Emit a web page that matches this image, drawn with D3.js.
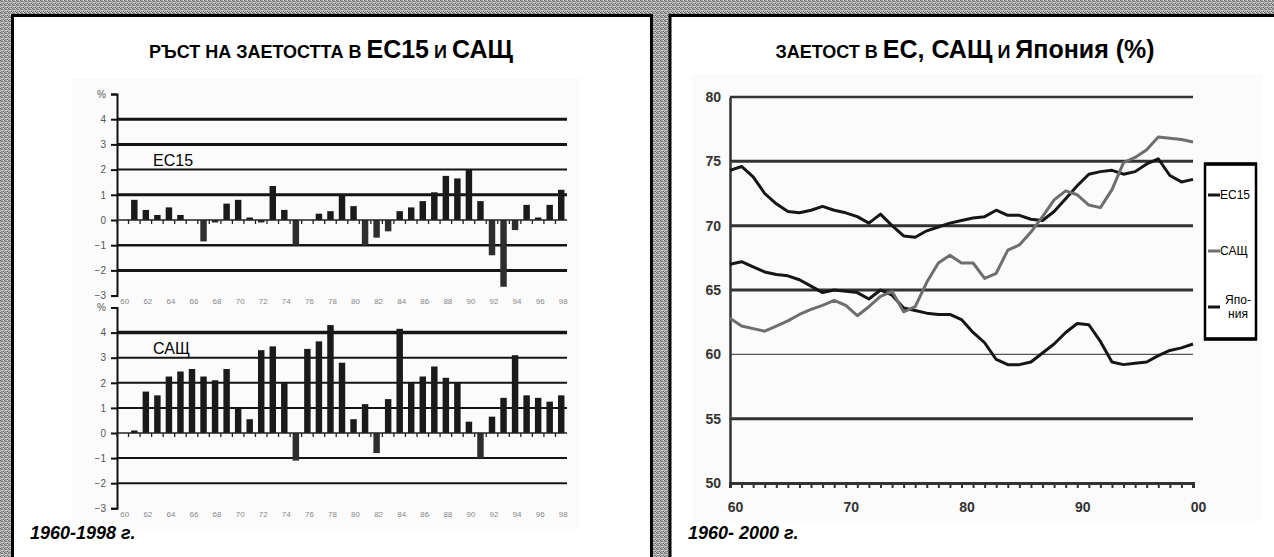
<!DOCTYPE html>
<html><head><meta charset="utf-8">
<script src="https://cdn.jsdelivr.net/npm/d3@7"></script>
<style>html,body{margin:0;padding:0;background:#fff;overflow:hidden}</style>
</head><body>
<svg id="c" width="1274" height="557"></svg>
<script>
// ---------- DATA ----------
const barYears = d3.range(1960, 1999);           // categories 1960..1998
const barTickYears = d3.range(1960, 1999, 2);    // x tick labels 60..98
const growthYears = d3.range(1961, 1999);        // years with bars
const euGrowth = [0.8,0.4,0.2,0.5,0.2,0.0,-0.85,-0.1,0.65,0.8,
                  0.1,-0.1,1.35,0.4,-1.0,0.0,0.25,0.35,1.0,0.55,
                  -1.0,-0.7,-0.45,0.35,0.5,0.75,1.1,1.75,1.65,2.0,
                  0.75,-1.4,-2.65,-0.4,0.6,0.1,0.6,1.2];
const usGrowth = [0.1,1.65,1.5,2.25,2.45,2.55,2.25,2.1,2.55,1.0,
                  0.55,3.3,3.45,2.0,-1.1,3.35,3.65,4.3,2.8,0.55,
                  1.15,-0.8,1.35,4.15,2.0,2.25,2.65,2.2,2.0,0.45,
                  -1.0,0.65,1.4,3.1,1.5,1.4,1.25,1.5];
const growthTicks = [-3,-2,-1,0,1,2,3,4,5];

const lineYears = d3.range(1960, 2001);
const eu15Rate = [67.0,67.2,66.8,66.4,66.2,66.1,65.8,65.3,64.8,65.0,
                  64.9,64.8,64.3,65.0,64.6,63.6,63.4,63.2,63.1,63.1,
                  62.7,61.7,60.9,59.6,59.2,59.2,59.4,60.1,60.8,61.7,
                  62.4,62.3,61.0,59.4,59.2,59.3,59.4,59.9,60.3,60.5,60.8];
const usaRate  = [62.8,62.2,62.0,61.8,62.2,62.6,63.1,63.5,63.8,64.2,
                  63.8,63.0,63.7,64.5,64.9,63.3,63.7,65.6,67.1,67.7,
                  67.1,67.1,65.9,66.3,68.1,68.5,69.5,70.7,72.0,72.7,
                  72.4,71.6,71.4,72.8,74.9,75.3,75.9,76.9,76.8,76.7,76.5];
const japanRate= [74.3,74.6,73.8,72.5,71.7,71.1,71.0,71.2,71.5,71.2,
                  71.0,70.7,70.2,70.9,70.0,69.2,69.1,69.6,69.9,70.2,
                  70.4,70.6,70.7,71.2,70.8,70.8,70.5,70.4,71.1,72.1,
                  73.1,74.0,74.2,74.3,74.0,74.2,74.8,75.2,73.9,73.4,73.6];
const rateTicks = [50,55,60,65,70,75,80];
const rateXTicks = [1960,1970,1980,1990,2000];
const legendNames = ["ЕС15","САЩ","Япония"];

// ---------- DRAW ----------
const svg = d3.select("#c");
const defs = svg.append("defs");
const pat = defs.append("pattern").attr("id","tex").attr("width",4).attr("height",4)
  .attr("patternUnits","userSpaceOnUse");
pat.append("rect").attr("width",4).attr("height",4).attr("fill","#a8a8a8");
[[0,0,"#666"],[2,1,"#7a7a7a"],[1,2,"#cfcfcf"],[3,3,"#606060"],[3,0,"#d2d2d2"],
 [1,3,"#858585"],[2,2,"#d8d8d8"],[0,3,"#c4c4c4"],[1,1,"#707070"]].forEach(([x,y,c])=>
  pat.append("rect").attr("x",x).attr("y",y).attr("width",1).attr("height",1).attr("fill",c));

svg.append("rect").attr("width",1274).attr("height",557).attr("fill","url(#tex)");
// panels
svg.append("rect").attr("x",12.5).attr("y",15.5).attr("width",639).attr("height",600)
  .attr("fill","#fff").attr("stroke","#000").attr("stroke-width",3);
svg.append("rect").attr("x",670).attr("y",15.5).attr("width",640).attr("height",600)
  .attr("fill","#fff").attr("stroke","#000").attr("stroke-width",3);
// faint plot backgrounds
svg.append("rect").attr("x",72).attr("y",78).attr("width",508).attr("height",451).attr("fill","#fbfbfb");
svg.append("rect").attr("x",692).attr("y",74).attr("width",571).attr("height",447).attr("fill","#fbfbfb");

const narrow = "'Liberation Sans Narrow','Arial Narrow','Liberation Sans',Arial,sans-serif";
const sans = "'Liberation Sans',Arial,sans-serif";

function title(cx, parts){
  const t = svg.append("text").attr("x",cx).attr("y",58).attr("text-anchor","middle")
    .attr("font-family",narrow).attr("font-weight","bold").attr("fill","#000");
  parts.forEach(([s,big])=> t.append("tspan").attr("font-size", big?25:18).text(s));
}
title(331, [["РЪСТ НА ЗАЕТОСТТА В ",0],["ЕС15",1],[" И ",0],["САЩ",1]]);
title(965, [["ЗАЕТОСТ В ",0],["ЕС, САЩ",1],[" И ",0],["Япония (%)",1]]);

// ---------- bar charts ----------
const xb = d3.scaleBand().domain(barYears).range([117,567]).paddingInner(0.44).paddingOuter(0.22);
function barChart(y0, unit, values, label, labelY, gridW){
  const y = d3.scaleLinear().domain([-3,5]).range([y0+3*unit, y0-5*unit]);
  const g = svg.append("g");
  growthTicks.filter(v=>v!==0 && v!==5 && v!==-3).forEach(v=>{
    g.append("line").attr("x1",117).attr("x2",567).attr("y1",y(v)).attr("y2",y(v))
      .attr("stroke","#151515").attr("stroke-width",gridW[v]);
  });
  const ax = d3.axisLeft(y).tickValues(growthTicks).tickSize(6).tickPadding(5)
    .tickFormat(d=> d===5 ? "%" : d3.format("d")(d));
  const ag = g.append("g").attr("transform","translate(117,0)").call(ax);
  ag.select(".domain").attr("stroke","#111").attr("stroke-width",2);
  ag.selectAll(".tick line").attr("stroke","#111").attr("stroke-width",2);
  ag.selectAll(".tick text").attr("font-family",sans).attr("font-size",10).attr("fill","#555");
  g.selectAll("rect.bar").data(values.map((v,i)=>({yr:growthYears[i],v}))).join("rect")
    .attr("class","bar")
    .attr("x",d=>xb(d.yr)).attr("width",xb.bandwidth())
    .attr("y",d=>y(Math.max(0,d.v))).attr("height",d=>Math.abs(y(d.v)-y(0)))
    .attr("fill",d=>d.v<0?"#2e2e2e":"#1a1a1a");
  g.append("line").attr("x1",117).attr("x2",567).attr("y1",y(0)).attr("y2",y(0))
    .attr("stroke","#222").attr("stroke-width",1.6);
  barYears.forEach(yr=>{
    const xx = xb(yr)-xb.step()*xb.paddingInner()/2;
    g.append("line").attr("x1",xx).attr("x2",xx).attr("y1",y(0)).attr("y2",y(0)+4)
      .attr("stroke","#222").attr("stroke-width",1.3);
  });
  const xa = d3.axisBottom(xb).tickValues(barTickYears).tickSize(0).tickPadding(0)
    .tickFormat(d=>String(d).slice(2));
  const xg = g.append("g").attr("transform",`translate(2,${y(-3)+3})`).call(xa);
  xg.select(".domain").remove();
  xg.selectAll(".tick text").attr("font-family",sans).attr("font-size",8).attr("fill","#888");
  g.append("text").attr("x",153).attr("y",labelY).attr("font-family",sans)
    .attr("font-size",16).attr("fill","#000").text(label);
  return g;
}
barChart(220, 25.2, euGrowth, "ЕС15", 166, {4:3,3:3,2:2,1:3,"-1":2.5,"-2":3});
barChart(433, 25.1, usGrowth, "САЩ", 354, {4:3.5,3:2,2:2,1:2,"-1":2,"-2":2});

// captions
svg.append("text").attr("x",30).attr("y",539).attr("font-family",sans).attr("font-weight","bold")
  .attr("font-style","italic").attr("font-size",18).text("1960-1998 г.");
svg.append("text").attr("x",688).attr("y",539).attr("font-family",sans).attr("font-weight","bold")
  .attr("font-style","italic").attr("font-size",18).text("1960- 2000 г.");

// ---------- line chart ----------
const x = d3.scaleLinear().domain([1960,2000]).range([730,1193]);
const y = d3.scaleLinear().domain([50,80]).range([483,97]);
const gl = svg.append("g");
const gridStyle = {55:[3,"#333"],60:[1.2,"#555"],65:[3,"#333"],70:[3,"#333"],75:[3,"#333"],80:[2.5,"#333"]};
rateTicks.filter(v=>v>50).forEach(v=>{
  gl.append("line").attr("x1",730).attr("x2",1193).attr("y1",y(v)).attr("y2",y(v))
    .attr("stroke",gridStyle[v][1]).attr("stroke-width",gridStyle[v][0]);
});
const ya = d3.axisLeft(y).tickValues(rateTicks).tickSize(0).tickPadding(9);
const yg = gl.append("g").attr("transform","translate(730,0)").call(ya);
yg.select(".domain").attr("stroke","#333").attr("stroke-width",2.5);
yg.selectAll(".tick text").attr("font-family",sans).attr("font-weight","bold").attr("font-size",14).attr("fill","#333");
const xm = d3.axisBottom(x).tickValues(lineYears).tickSize(5).tickFormat("");
const xmg = gl.append("g").attr("transform","translate(0,483)").call(xm);
xmg.select(".domain").attr("stroke","#333").attr("stroke-width",3);
xmg.selectAll(".tick line").attr("stroke","#333").attr("stroke-width",2);
const xl = d3.axisBottom(x).tickValues(rateXTicks).tickSize(0).tickPadding(19)
  .tickFormat(d=>String(d).slice(2));
const xlg = gl.append("g").attr("transform","translate(5,483)").call(xl);
xlg.select(".domain").remove();
xlg.selectAll(".tick text").attr("font-family",sans).attr("font-weight","bold").attr("font-size",14).attr("fill","#333");

const line = d3.line().x((d,i)=>x(lineYears[i])).y(d=>y(d));
const series = [[japanRate,"#161616"],[eu15Rate,"#161616"],[usaRate,"#6e6e6e"]];
series.forEach(([arr,c])=>{
  gl.append("path").attr("d",line(arr)).attr("fill","none").attr("stroke",c)
    .attr("stroke-width",3).attr("stroke-linejoin","round");
});

// legend
const lg = svg.append("g");
lg.append("rect").attr("x",1205).attr("y",164).attr("width",51).attr("height",175)
  .attr("fill","#fff").attr("stroke","#000").attr("stroke-width",2.5);
lg.append("line").attr("x1",1204).attr("x2",1257).attr("y1",164).attr("y2",164).attr("stroke","#000").attr("stroke-width",3.5);
lg.append("line").attr("x1",1204).attr("x2",1257).attr("y1",339).attr("y2",339).attr("stroke","#000").attr("stroke-width",3.5);
const legY = [195, 251, 307];
const legC = ["#161616","#6e6e6e","#161616"];
legendNames.forEach((n,i)=>{
  lg.append("line").attr("x1",1208).attr("x2",1220).attr("y1",legY[i]).attr("y2",legY[i])
    .attr("stroke",legC[i]).attr("stroke-width",3);
  if(n==="Япония"){
    const t = lg.append("text").attr("font-family",sans).attr("font-size",12).attr("text-anchor","middle");
    t.append("tspan").attr("x",1238).attr("y",304).text("Япо-");
    t.append("tspan").attr("x",1238).attr("y",318).text("ния");
  } else {
    lg.append("text").attr("x",1220).attr("y",legY[i]+4).attr("font-family",sans)
      .attr("font-size",12).text(n);
  }
});
</script>
</body></html>
